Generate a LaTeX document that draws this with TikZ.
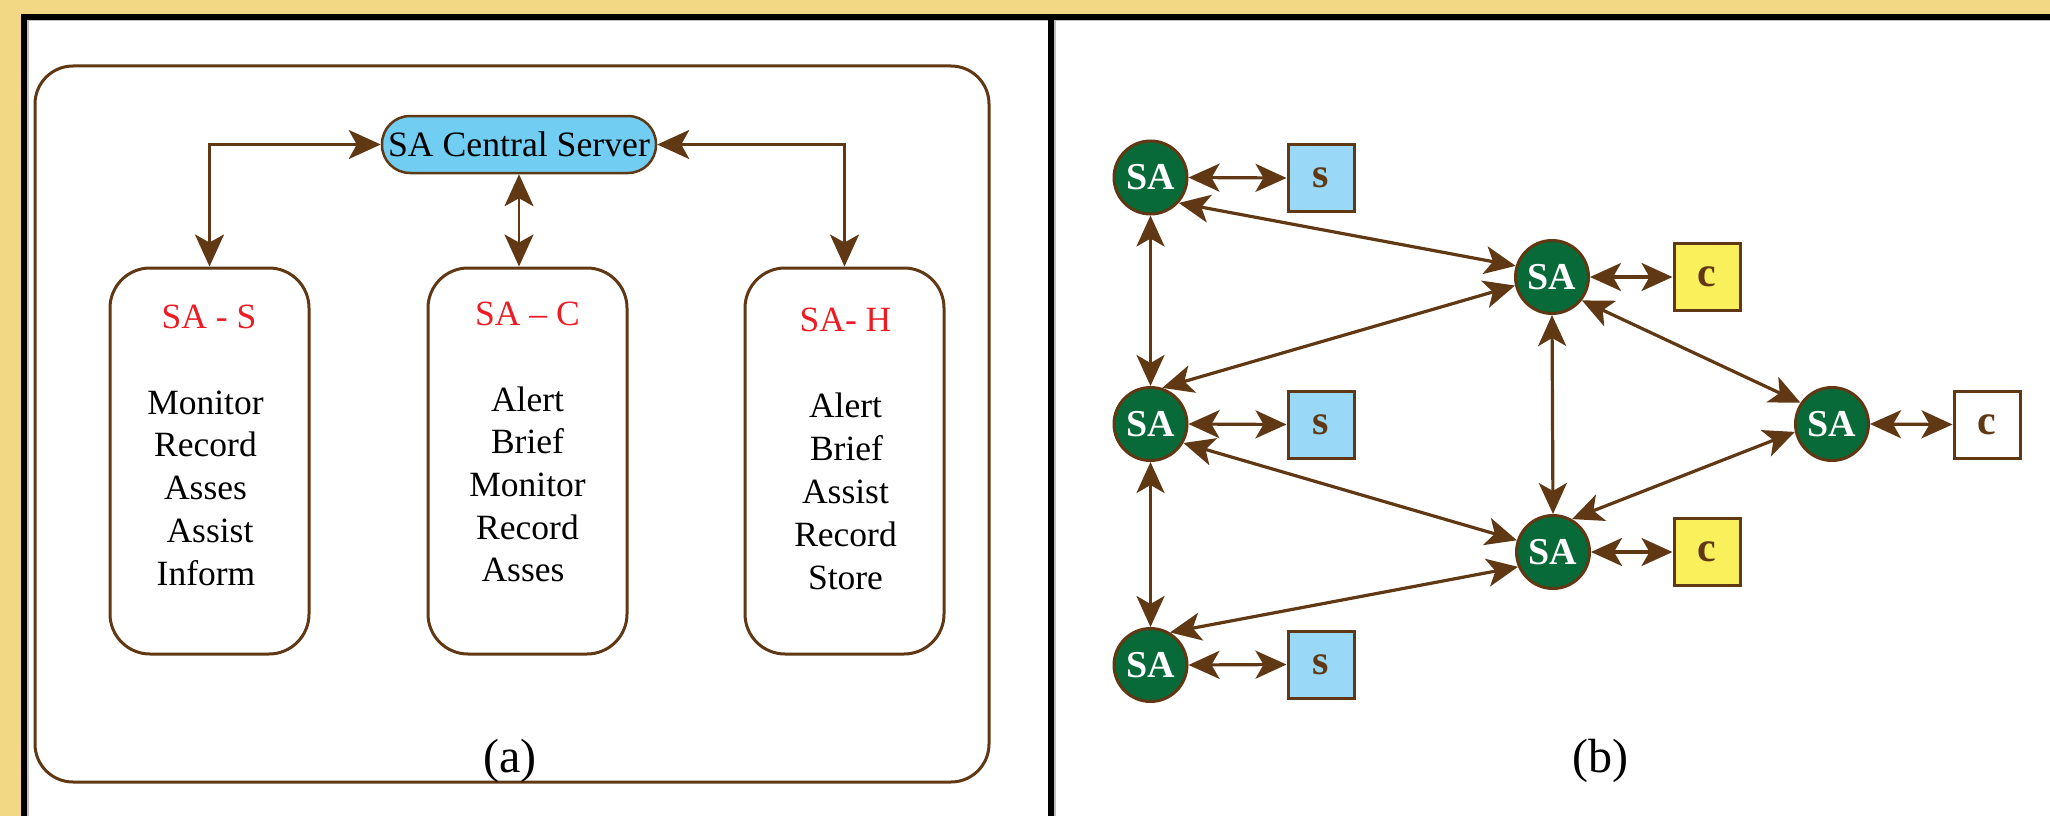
\documentclass[tikz,border=0pt]{standalone}
\usepackage{fontspec}
\setmainfont{Liberation Serif}
\usetikzlibrary{arrows.meta}

\definecolor{frameyellow}{RGB}{242,215,133}
\definecolor{brn}{RGB}{96,56,20}
\definecolor{serverblue}{RGB}{114,205,243}
\definecolor{sblue}{RGB}{153,217,247}
\definecolor{cyellow}{RGB}{250,240,92}
\definecolor{sagreen}{RGB}{7,106,56}
\definecolor{titlered}{RGB}{237,28,36}

\tikzset{
  txt/.style={font=\fontsize{35.5}{42.8}\selectfont, inner sep=0pt},
  ttl/.style={txt, text=titlered},
  rolebox/.style={draw=brn, line width=3pt, rounded corners=40pt,
    minimum width=199pt, minimum height=386pt, inner sep=0pt},
  server/.style={draw=brn, line width=2.5pt, fill=serverblue,
    rounded corners=28pt, minimum width=274pt, minimum height=57pt,
    inner sep=0pt, font=\fontsize{35.7}{40}\selectfont},
  link/.style={draw=brn, line width=2.8pt,
    {Stealth[length=32pt,width=29pt,inset=8pt]}-{Stealth[length=32pt,width=29pt,inset=8pt]}},
  agent/.style={circle, draw=brn, line width=3pt, fill=sagreen,
    minimum size=73pt, inner sep=0pt, text=white,
    font=\fontsize{38}{40}\selectfont\bfseries},
  unit/.style={rectangle, draw=brn, line width=3pt,
    minimum width=66pt, minimum height=67pt, inner sep=0pt, text=brn,
    font=\fontsize{42}{44}\selectfont\bfseries},
  edge/.style={draw=brn, line width=3.2pt,
    {Stealth[length=31pt,width=28pt,inset=8pt]}-{Stealth[length=31pt,width=28pt,inset=8pt]}},
}

\begin{document}
\begin{tikzpicture}[x=1pt,y=-1pt]
\useasboundingbox (0,0) rectangle (2050,816);

% page frame
\fill[frameyellow] (0,0) rectangle (2050,816);
\fill[white] (21,14) rectangle (2050,816);
\fill[black!25] (27,20) rectangle (28.5,816);
\fill[black!25] (27,20) rectangle (2050,21.5);
\fill[black!25] (1054,20) rectangle (1055.5,816);
\fill[black] (21,14) rectangle (2050,20);
\fill[black] (21,14) rectangle (27,816);
\fill[black] (1048,20) rectangle (1054,816);

% ---------- panel (a) ----------
\draw[brn, line width=3pt, rounded corners=38pt] (35,66) rectangle (989,782);

\node[server] (srv) at (519,144.5) {SA Central Server};

\node[rolebox] (bS) at (209.5,461) {};
\node[rolebox] (bC) at (527.5,461) {};
\node[rolebox] (bH) at (844.5,461) {};

\draw[link] (bS.north) |- (srv.west);
\draw[link] (bH.north) |- (srv.east);
\draw[link] (srv.south) -- (srv.south |- bC.north);

% SA - S
\node[ttl, anchor=base] (tS) at (209,328) {SA - S};
\node[txt, anchor=base] (s1) at (205.5,414) {Monitor};
\node[txt, anchor=base] (s2) at (205.5,456.7) {Record};
\node[txt, anchor=base] (s3) at (205.5,499.5) {Asses};
\node[txt, anchor=base] (s4) at (210,542.5) {Assist};
\node[txt, anchor=base] (s5) at (206,585) {Inform};

% SA - C
\node[ttl, anchor=base] (tC) at (527.5,325) {SA -- C};
\node[txt, anchor=base] (c1) at (527.5,411.7) {Alert};
\node[txt, anchor=base] (c2) at (527.5,453.5) {Brief};
\node[txt, anchor=base] (c3) at (527.5,496.7) {Monitor};
\node[txt, anchor=base] (c4) at (527.5,539) {Record};
\node[txt, anchor=base] (c5) at (523,581.7) {Asses};

% SA - H
\node[ttl, anchor=base] (tH) at (845.5,331) {SA- H};
\node[txt, anchor=base] (h1) at (845.5,417) {Alert};
\node[txt, anchor=base] (h2) at (846.5,460) {Brief};
\node[txt, anchor=base] (h3) at (845.5,503) {Assist};
\node[txt, anchor=base] (h4) at (845.5,546.5) {Record};
\node[txt, anchor=base] (h5) at (845.5,589.5) {Store};

\node[anchor=base, inner sep=0pt, font=\fontsize{48}{50}\selectfont] (la) at (510,772) {(a)};

% ---------- panel (b) ----------
\node[agent] (a1) at (1150.5,177.5) {SA};
\node[agent] (a2) at (1552,277) {SA};
\node[agent] (a3) at (1150.5,424) {SA};
\node[agent] (a4) at (1832,424) {SA};
\node[agent] (a5) at (1553,552) {SA};
\node[agent] (a6) at (1150.5,665) {SA};

\node[unit, fill=sblue]   (u1) at (1321,178) {s};
\node[unit, fill=cyellow] (u2) at (1707,277) {c};
\node[unit, fill=sblue]   (u3) at (1321,424.5) {s};
\node[unit, fill=white]   (u4) at (1987,424.5) {c};
\node[unit, fill=cyellow] (u5) at (1707,552) {c};
\node[unit, fill=sblue]   (u6) at (1321,664.5) {s};

\draw[edge] (a1.east) -- (u1.west);
\draw[edge] (a2.east) -- (u2.west);
\draw[edge] (a3.east) -- (u3.west);
\draw[edge] (a4.east) -- (u4.west);
\draw[edge] (a5.east) -- (u5.west);
\draw[edge] (a6.east) -- (u6.west);

\draw[edge] (a1.-42) -- (a2.163);
\draw[edge] (a3.72) -- (a2.193);
\draw[edge] (a2.-38) -- (a4.146);
\draw[edge] (a2.south) -- (a5.north);
\draw[edge] (a1.south) -- (a3.north);
\draw[edge] (a3.-30) -- (a5.162);
\draw[edge] (a5.60) -- (a4.192);
\draw[edge] (a3.south) -- (a6.north);
\draw[edge] (a6.59) -- (a5.203);

\node[anchor=base, inner sep=0pt, font=\fontsize{48}{50}\selectfont] (lb) at (1600,772) {(b)};
\end{tikzpicture}
\end{document}
